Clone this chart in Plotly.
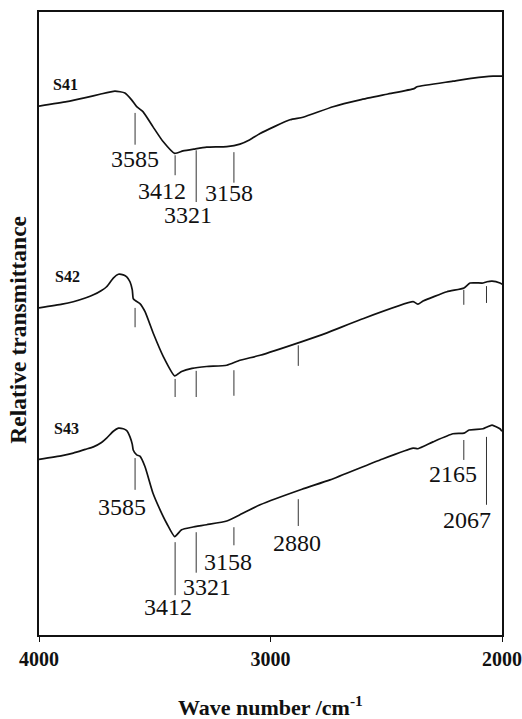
import plotly.graph_objects as go

# FTIR spectra (relative transmittance, arbitrary offset units)
s41_wn = [4000, 3880, 3794, 3737, 3672, 3629, 3600, 3578, 3551, 3508, 3464, 3414,
          3378, 3330, 3276, 3189, 3132, 3089, 3045, 2916, 2860, 2730, 2613, 2497,
          2380, 2367, 2212, 2125, 2039, 2000]
s41_t = [84.9, 85.6, 86.3, 86.8, 87.3, 87.0, 85.9, 84.8, 84.0, 81.6, 79.2, 77.3,
         77.7, 78.0, 78.3, 78.4, 78.8, 79.5, 80.5, 82.7, 83.1, 84.8, 85.9, 86.8,
         87.7, 88.0, 88.9, 89.4, 89.7, 89.7]

s42_wn = [4000, 3900, 3852, 3800, 3765, 3730, 3708, 3679, 3657, 3636, 3621, 3607,
          3597, 3593, 3585, 3564, 3542, 3506, 3463, 3414, 3384, 3339, 3276, 3189,
          3132, 3045, 2864, 2756, 2613, 2384, 2363, 2341, 2238, 2164, 2138, 2082,
          2065, 2043, 2009, 2000]
s42_t = [52.5, 53.1, 53.5, 54.1, 54.6, 55.3, 55.9, 57.3, 57.9, 57.8, 57.5, 56.7,
         55.4, 54.0, 53.7, 53.2, 51.9, 48.4, 44.7, 41.6, 42.3, 42.8, 43.1, 43.3,
         44.1, 44.9, 47.1, 48.5, 50.6, 53.5, 53.1, 53.6, 55.1, 55.7, 56.5, 56.5,
         56.7, 56.8, 56.5, 56.3]

s43_wn = [4000, 3900, 3852, 3800, 3765, 3730, 3708, 3679, 3657, 3636, 3621, 3607,
          3597, 3593, 3578, 3564, 3542, 3508, 3477, 3448, 3414, 3384, 3339, 3276,
          3189, 3132, 3045, 2864, 2743, 2527, 2384, 2363, 2298, 2212, 2164, 2142,
          2082, 2065, 2043, 2009, 2000]
s43_t = [28.2, 28.8, 29.2, 29.8, 30.2, 30.9, 31.6, 32.7, 33.2, 33.1, 32.8, 31.8,
         30.6, 29.7, 28.9, 28.7, 27.0, 22.8, 20.1, 17.9, 15.8, 16.9, 17.3, 17.7,
         18.3, 19.3, 20.9, 23.4, 24.9, 28.1, 30.0, 29.9, 31.0, 32.3, 32.4, 32.9,
         33.1, 33.4, 33.7, 33.1, 32.7]

# Assigned band positions (cm-1) marked on each spectrum
s41_peaks = [3585, 3412, 3321, 3158]
s42_peaks = [3585, 3412, 3321, 3158, 2880, 2165, 2067]
s43_peaks = [3585, 3412, 3321, 3158, 2880, 2165, 2067]

sample_names = ["S41", "S42", "S43"]
x_ticks = [4000, 3000, 2000]

# ---- drawing layout (tick-mark extents and label placement) ----
s41_marks = {3585: (83.8, 78.7), 3412: (77.0, 73.8), 3321: (77.8, 69.5), 3158: (77.5, 72.6)}
s42_marks = {3585: (52.5, 49.4), 3412: (41.1, 38.2), 3321: (42.4, 38.2), 3158: (42.5, 38.4),
             2880: (46.5, 43.2), 2165: (55.4, 53.0), 2067: (56.0, 53.3)}
s43_marks = {3585: (28.4, 23.3), 3412: (14.9, 6.4), 3321: (16.5, 10.0), 3158: (17.3, 14.4),
             2880: (21.8, 17.5), 2165: (31.3, 28.1), 2067: (31.8, 20.9)}
s41_label_pos = {3585: (3585, 76.4), 3412: (3469, 71.3), 3321: (3356, 67.4), 3158: (3179, 71.0)}
s43_label_pos = {3585: (3641, 20.5), 3412: (3443, 4.5), 3321: (3274, 7.7), 3158: (3184, 11.7),
                 2880: (2886, 14.8), 2165: (2212, 25.8), 2067: (2151, 18.5)}
name_pos = [(3886, 88.3), (3877, 57.5), (3881, 33.1)]

INK = "#111111"
SERIF = "Liberation Serif"
fig = go.Figure()

for wn, t in [(s41_wn, s41_t), (s42_wn, s42_t), (s43_wn, s43_t)]:
    fig.add_trace(go.Scatter(x=wn, y=t, mode="lines",
                             line=dict(color=INK, width=1.7, shape="spline", smoothing=0.5),
                             hoverinfo="skip"))

for peaks, marks in [(s41_peaks, s41_marks), (s42_peaks, s42_marks), (s43_peaks, s43_marks)]:
    xs, ys = [], []
    for p in peaks:
        y0, y1 = marks[p]
        xs += [p, p, None]
        ys += [y0, y1, None]
    fig.add_trace(go.Scatter(x=xs, y=ys, mode="lines",
                             line=dict(color="#333333", width=1), hoverinfo="skip"))

annotations = []
for peaks, pos in [(s41_peaks, s41_label_pos), (s43_peaks, s43_label_pos)]:
    for p in peaks:
        lx, ly = pos[p]
        annotations.append(dict(x=lx, y=ly, xref="x", yref="y", text=str(p),
                                showarrow=False, xanchor="center", yanchor="middle",
                                font=dict(family=SERIF, size=24, color=INK)))

for name, (nx, ny) in zip(sample_names, name_pos):
    annotations.append(dict(x=nx, y=ny, xref="x", yref="y", text="<b>%s</b>" % name,
                            showarrow=False, xanchor="center", yanchor="middle",
                            font=dict(family=SERIF, size=16, color=INK)))

annotations.append(dict(x=0.5, y=-0.114, xref="paper", yref="paper",
                        text="<b>Wave number /cm<sup>-1</sup></b>", showarrow=False,
                        xanchor="center", yanchor="middle",
                        font=dict(family=SERIF, size=22, color=INK)))
annotations.append(dict(x=-0.0454, y=0.49, xref="paper", yref="paper",
                        text="<b>Relative transmittance</b>", showarrow=False, textangle=-90,
                        xanchor="center", yanchor="middle",
                        font=dict(family=SERIF, size=23.5, color=INK)))

fig.update_layout(
    width=522, height=719,
    margin=dict(l=39, r=20, t=12, b=84),
    paper_bgcolor="white", plot_bgcolor="white",
    showlegend=False,
    annotations=annotations,
    xaxis=dict(range=[4000, 2000], tickvals=x_ticks,
               ticktext=["<b>%d</b>" % v for v in x_ticks],
               ticklabeloverflow="allow", automargin=False,
               ticks="outside", ticklen=5, tickwidth=1, tickcolor=INK,
               showline=True, linecolor=INK, linewidth=1.5, mirror=True,
               showgrid=False, zeroline=False,
               tickfont=dict(family=SERIF, size=20, color=INK)),
    yaxis=dict(range=[0, 100], showticklabels=False, ticks="", automargin=False,
               showline=True, linecolor=INK, linewidth=1.5, mirror=True,
               showgrid=False, zeroline=False),
)

fig.write_html("out.html")
